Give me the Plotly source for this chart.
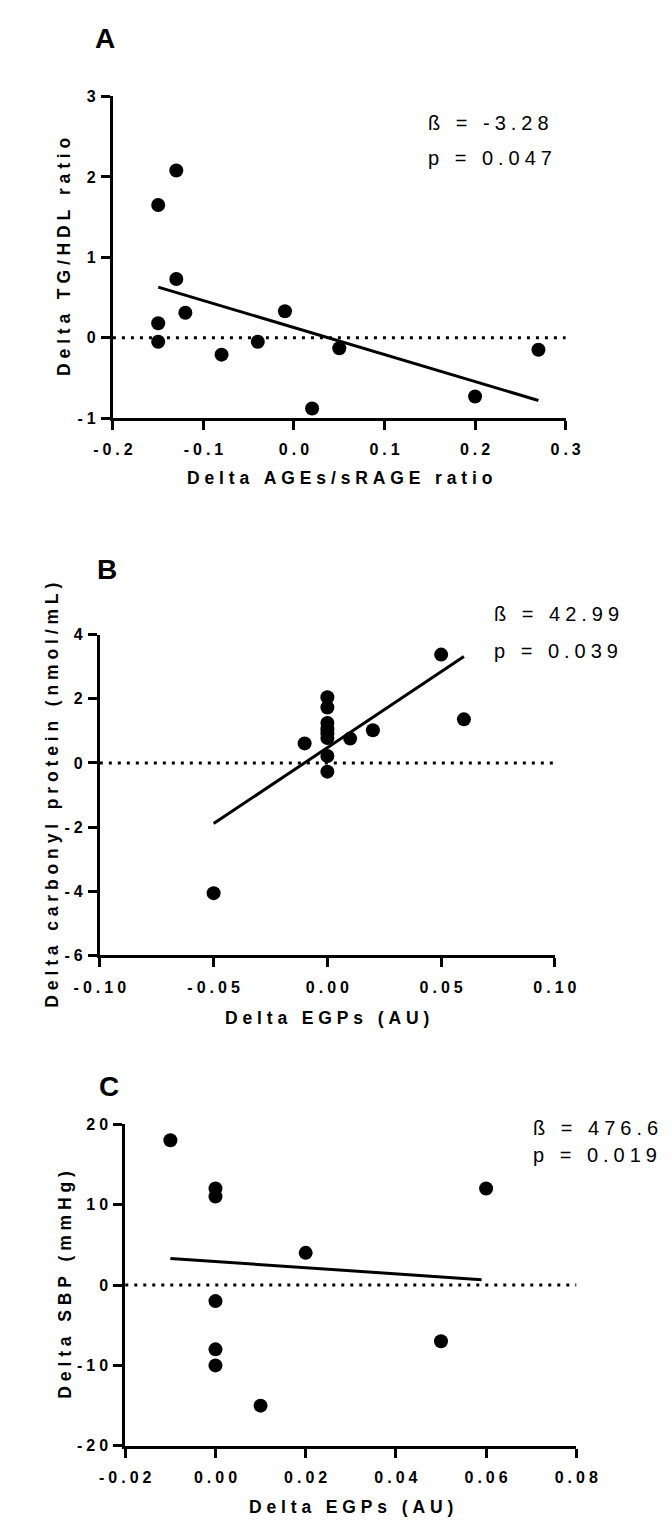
import plotly.graph_objects as go

# ---------------- data ----------------
# Panel A
a_x = [-0.15, -0.13, -0.13, -0.12, -0.15, -0.15, -0.08, -0.04, -0.01, 0.02, 0.05, 0.20, 0.27]
a_y = [1.65, 2.08, 0.73, 0.31, 0.18, -0.05, -0.21, -0.05, 0.33, -0.88, -0.13, -0.73, -0.15]
a_fit_x = [-0.15, 0.27]
a_fit_y = [0.63, -0.78]
a_xticks = [-0.2, -0.1, 0.0, 0.1, 0.2, 0.3]
a_xticktext = ["-0.2", "-0.1", "0.0", "0.1", "0.2", "0.3"]
a_yticks = [-1, 0, 1, 2, 3]
a_yticktext = ["-1", "0", "1", "2", "3"]
a_xtitle = "Delta AGEs/sRAGE ratio"
a_ytitle = "Delta TG/HDL ratio"
a_stats = ["ß = -3.28", "p = 0.047"]

# Panel B
b_x = [-0.05, -0.01, 0.0, 0.0, 0.0, 0.0, 0.0, 0.0, 0.0, 0.0, 0.01, 0.02, 0.05, 0.06]
b_y = [-4.06, 0.61, 2.05, 1.73, 1.25, 1.05, 0.92, 0.78, 0.22, -0.27, 0.76, 1.02, 3.38, 1.36]
b_fit_x = [-0.05, 0.06]
b_fit_y = [-1.89, 3.32]
b_xticks = [-0.10, -0.05, 0.0, 0.05, 0.10]
b_xticktext = ["-0.10", "-0.05", "0.00", "0.05", "0.10"]
b_yticks = [-6, -4, -2, 0, 2, 4]
b_yticktext = ["-6", "-4", "-2", "0", "2", "4"]
b_xtitle = "Delta EGPs (AU)"
b_ytitle = "Delta carbonyl protein (nmol/mL)"
b_stats = ["ß = 42.99", "p = 0.039"]

# Panel C
c_x = [-0.01, 0.0, 0.0, 0.02, 0.06, 0.0, 0.0, 0.0, 0.05, 0.01]
c_y = [18, 12, 11, 4, 12, -2, -8, -10, -7, -15]
c_fit_x = [-0.01, 0.059]
c_fit_y = [3.3, 0.66]
c_xticks = [-0.02, 0.0, 0.02, 0.04, 0.06, 0.08]
c_xticktext = ["-0.02", "0.00", "0.02", "0.04", "0.06", "0.08"]
c_yticks = [-20, -10, 0, 10, 20]
c_yticktext = ["-20", "-10", "0", "10", "20"]
c_xtitle = "Delta EGPs (AU)"
c_ytitle = "Delta SBP (mmHg)"
c_stats = ["ß = 476.6", "p = 0.019"]

panel_letters = ["A", "B", "C"]

# ---------------- layout helpers ----------------
W, H = 672, 1521
FONT = "Liberation Sans, Arial, Helvetica, sans-serif"
SP_TICK = "\u2005"
SP_TITLE = "\u00a0"
SP_STAT = "\u2005"


def track(s, sep):
    return sep.join("\u00a0" if ch == " " else ch for ch in s)


def px(xp):
    return xp / W


def py(yp):
    return 1 - yp / H


panels = [
    dict(x=a_x, y=a_y, fx=a_fit_x, fy=a_fit_y, xt=a_xticks, xtt=a_xticktext,
         yt=a_yticks, ytt=a_yticktext, xtitle=a_xtitle, ytitle=a_ytitle, stats=a_stats,
         xr=[-0.2, 0.3], yr=[-1, 3], dom_x=(85, 572.5), dom_y=(81.4, 406.7),
         letter=(76, 22.5), stat_pos=(421.7, 108.3, 143.3), xtitle_y=467, ytitle_x=33),
    dict(x=b_x, y=b_y, fx=b_fit_x, fy=b_fit_y, xt=b_xticks, xtt=b_xticktext,
         yt=b_yticks, ytt=b_yticktext, xtitle=b_xtitle, ytitle=b_ytitle, stats=b_stats,
         xr=[-0.10, 0.10], yr=[-6, 4], dom_x=(70.9, 561), dom_y=(625.7, 950),
         letter=(79, 560), stat_pos=(493.3, 605, 641.7), xtitle_y=1013, ytitle_x=19),
    dict(x=c_x, y=c_y, fx=c_fit_x, fy=c_fit_y, xt=c_xticks, xtt=c_xticktext,
         yt=c_yticks, ytt=c_yticktext, xtitle=c_xtitle, ytitle=c_ytitle, stats=c_stats,
         xr=[-0.02, 0.08], yr=[-20, 20], dom_x=(98.3, 584), dom_y=(1120.7, 1446),
         letter=(80.8, 1083), stat_pos=(535, 1125, 1152), xtitle_y=1508, ytitle_x=33),
]

fig = go.Figure()
annotations = []
shapes = []
layout_axes = {}

for i, p in enumerate(panels):
    n = "" if i == 0 else str(i + 1)
    xa, ya = "x" + n, "y" + n
    fig.add_trace(go.Scatter(x=p["x"], y=p["y"], mode="markers", xaxis=xa, yaxis=ya,
                             marker=dict(size=14, color="black"), cliponaxis=False,
                             showlegend=False, hoverinfo="x+y"))
    fig.add_trace(go.Scatter(x=p["fx"], y=p["fy"], mode="lines", xaxis=xa, yaxis=ya,
                             line=dict(color="black", width=3), showlegend=False,
                             hoverinfo="skip"))
    shapes.append(dict(type="line", xref=xa + " domain", x0=0, x1=1, yref=ya, y0=0, y1=0,
                       line=dict(color="black", width=3, dash="3px,6px"), layer="below"))
    axis_common = dict(showline=True, linecolor="black", linewidth=3, ticks="outside",
                       ticklen=9, tickwidth=3, tickcolor="black", showgrid=False,
                       zeroline=False, fixedrange=True,
                       tickfont=dict(family=FONT, size=16, color="black", weight="bold"))
    layout_axes["xaxis" + n] = dict(axis_common, domain=[px(p["dom_x"][0]), px(p["dom_x"][1])],
                                    range=p["xr"], anchor=ya, tickvals=p["xt"],
                                    ticktext=[track(t, SP_TICK) for t in p["xtt"]],
                                    ticklabelstandoff=6)
    layout_axes["yaxis" + n] = dict(axis_common, domain=[py(p["dom_y"][1]), py(p["dom_y"][0])],
                                    range=p["yr"], anchor=xa, tickvals=p["yt"],
                                    ticktext=[track(t, SP_TICK) for t in p["ytt"]],
                                    ticklabelstandoff=2)
    # panel letter
    annotations.append(dict(text="<b>%s</b>" % panel_letters[i], xref="paper", yref="paper",
                            x=px(p["letter"][0]), y=py(p["letter"][1]), xanchor="center",
                            yanchor="middle", showarrow=False,
                            font=dict(family=FONT, size=28, color="black")))
    # stats
    sx, sy1, sy2 = p["stat_pos"]
    for txt, yy in zip(p["stats"], (sy1, sy2)):
        annotations.append(dict(text=track(txt, SP_STAT), xref="paper", yref="paper",
                                x=px(sx), y=py(yy), xanchor="left", yanchor="middle",
                                showarrow=False, font=dict(family=FONT, size=20, color="black")))
    # axis titles
    annotations.append(dict(text="<b>%s</b>" % track(p["xtitle"], SP_TITLE), xref="paper",
                            yref="paper", x=px((p["dom_x"][0] + p["dom_x"][1]) / 2),
                            y=py(p["xtitle_y"]), xanchor="center", yanchor="middle",
                            showarrow=False, font=dict(family=FONT, size=17.5, color="black")))
    annotations.append(dict(text="<b>%s</b>" % track(p["ytitle"], SP_TITLE), xref="paper",
                            yref="paper", x=px(p["ytitle_x"]),
                            y=py((p["dom_y"][0] + p["dom_y"][1]) / 2), xanchor="center",
                            yanchor="middle", textangle=-90, showarrow=False,
                            font=dict(family=FONT, size=17.5, color="black")))

fig.update_layout(width=W, height=H, margin=dict(l=0, r=0, t=0, b=0),
                  paper_bgcolor="white", plot_bgcolor="white", showlegend=False,
                  annotations=annotations, shapes=shapes, **layout_axes)

fig.write_html("out.html")
